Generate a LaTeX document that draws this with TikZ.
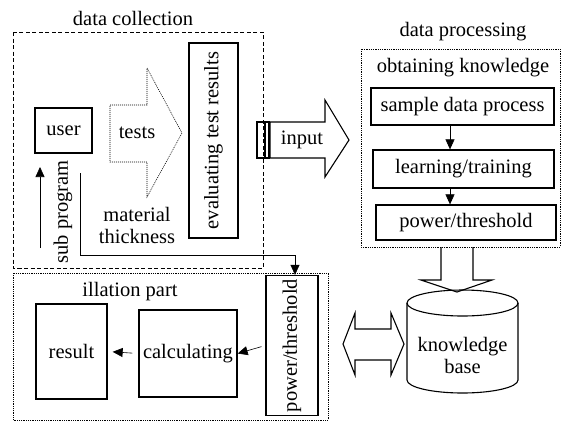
\documentclass[tikz,border=0pt]{standalone}
\usepackage{fontspec}
\setmainfont{Liberation Serif}
\usetikzlibrary{positioning, arrows.meta, calc}
\tikzset{
    boxnode/.style   = {draw, line width=1.3pt, inner sep=0pt, align=center,
                        font=\fontsize{20.5}{22}\selectfont},
    grpdash/.style   = {line width=0.8pt, dash pattern=on 4pt off 2.5pt},
    grpdot/.style    = {line width=0.8pt, dash pattern=on 1pt off 0.8pt},
    lbl/.style       = {inner sep=0pt, align=center, font=\fontsize{20.5}{22}\selectfont},
    edge/.style      = {-{Triangle[length=10pt,width=9pt]}, line width=0.6pt},
    blockarrow/.style= {line width=1.1pt, line join=miter},
}

\begin{document}
\begin{tikzpicture}[x=1pt, y=-1pt]
\useasboundingbox (0,0) rectangle (561,421);

% data collection
\draw[grpdash] (13,32) rectangle (263,268);
\node[lbl] (dctitle) at (133,18) {data collection};

\node[boxnode, minimum width=57, minimum height=45] (user) at (63.5,130.5) {user};
\node[boxnode, rotate=90, minimum width=195, minimum height=49] (evaluate) at (213.5,140.5)
    {evaluating test results};

\draw[line width=0.6pt, dash pattern=on 1pt off 1pt]
    (110,105) -- (147,105) -- (147,68) -- (182,133) -- (147,197) -- (147,162) -- (110,162) -- cycle;
\node[lbl] (tests) at (137,133) {tests};
\node[lbl] (material) at (137,225) {material\\thickness};

\coordinate (subbot) at (40,248);
\coordinate (subtop) at (40,167);
\draw[edge] (subbot) -- (subtop);
\node[lbl, rotate=90] (subprog) at (63,212) {sub program};

% data processing
\draw[grpdot] (361,49) rectangle (560,247);
\node[lbl] (dptitle) at (463,32) {data processing};
\node[lbl] (obtain) at (463,68) {obtaining knowledge};

\node[boxnode, minimum width=183, minimum height=37] (sample) at (462.5,106.5) {sample data process};
\node[boxnode, minimum width=181, minimum height=38] (learn) at (463.5,169) {learning/training};
\node[boxnode, minimum width=180, minimum height=35] (power) at (466,222.5) {power/threshold};

\draw[edge] ([xshift=-12.5pt]sample.south) -- ([xshift=-12.5pt]sample.south |- learn.north);
\draw[edge] ([xshift=-12.5pt]sample.south |- learn.south) -- ([xshift=-12.5pt]sample.south |- power.north);

% input
\draw[line width=1.2pt] (257,122) rectangle (265,158);
\draw[line width=1.2pt] (265,122) rectangle (269,158);
\draw[blockarrow] (270,122) -- (325,122) -- (325,100) -- (349,140) -- (325,177)
    -- (325,158) -- (270,158) -- cycle;
\node[lbl] (input) at (302,140) {input};

% knowledge base
\draw[blockarrow] (441,247) -- (441,280) -- (421,280) -- (457,292) -- (492,280)
    -- (473,280) -- (473,247);
\draw[line width=1.1pt] (407,303) -- (407,380)
    arc[start angle=180, end angle=360, x radius=55.5pt, y radius=13pt] -- (518,303);
\draw[line width=1.1pt] (462.5,303) ellipse[x radius=55.5pt, y radius=13pt];
\node[lbl] (kb) at (462.5,355) {knowledge\\base};

\draw[blockarrow] (343,344) -- (355,313) -- (355,329) -- (391,329) -- (391,313) -- (404,344)
    -- (391,375) -- (391,360) -- (355,360) -- (355,375) -- cycle;

% illation part
\draw[grpdot] (13,273) rectangle (328,420);
\node[lbl] (iltitle) at (130,292) {illation part};

\node[boxnode, minimum width=71, minimum height=95] (result) at (71.5,351.5) {result};
\node[boxnode, minimum width=98, minimum height=87] (calc) at (188,353.5) {calculating};
\node[boxnode, rotate=90, minimum width=140, minimum height=52] (power2) at (292,345.5) {power/threshold};

\draw[edge, shorten <=4pt] (power2.north) -- (calc.east);
\draw[edge, shorten <=6pt, shorten >=5pt] (calc.west) -- (result.east);

\coordinate (loopa) at (80,173);
\coordinate (loopb) at (80,255);
\coordinate (loopc) at (295,255);
\draw[edge] (loopa) -- (loopb) -- (loopc) -- (loopc |- power2.east);
\end{tikzpicture}
\end{document}
